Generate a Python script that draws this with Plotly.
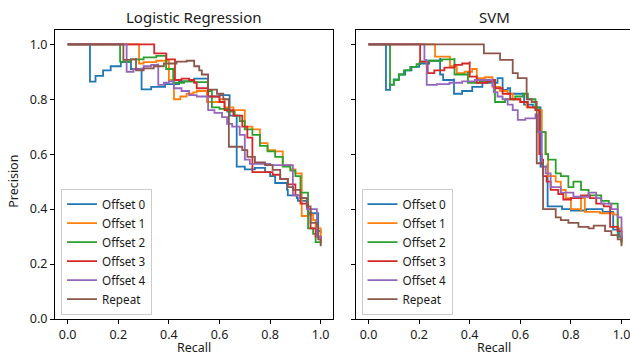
import plotly.graph_objects as go

# ---------------- data (recall, precision) ----------------
series_names = ["Offset 0", "Offset 1", "Offset 2", "Offset 3", "Offset 4", "Repeat"]
panel_titles = ["Logistic Regression", "SVM"]
x_ticks = [0.0, 0.2, 0.4, 0.6, 0.8, 1.0]
y_ticks = [0.0, 0.2, 0.4, 0.6, 0.8, 1.0]

# Logistic Regression
lr_off0_recall = [0, 0.088, 0.11, 0.14, 0.17, 0.21, 0.25, 0.25, 0.292, 0.292, 0.33, 0.385, 0.44, 0.50, 0.555, 0.555, 0.60, 0.64, 0.64, 0.668, 0.668, 0.70, 0.74, 0.78, 0.80, 0.82, 0.867, 0.87, 0.906, 0.91, 0.946, 0.95, 0.99, 0.99, 1.0]
lr_off0_precision = [1.0, 0.864, 0.885, 0.905, 0.92, 0.935, 0.942, 0.91, 0.915, 0.836, 0.845, 0.855, 0.865, 0.875, 0.88, 0.81, 0.815, 0.80, 0.74, 0.70, 0.555, 0.545, 0.55, 0.535, 0.52, 0.495, 0.47, 0.45, 0.44, 0.43, 0.41, 0.385, 0.38, 0.32, 0.31]

lr_off1_recall = [0, 0.282, 0.30, 0.35, 0.40, 0.40, 0.42, 0.42, 0.445, 0.47, 0.496, 0.51, 0.55, 0.55, 0.60, 0.62, 0.655, 0.70, 0.70, 0.73, 0.76, 0.76, 0.79, 0.82, 0.85, 0.85, 0.88, 0.90, 0.925, 0.925, 0.95, 0.97, 0.98, 1.0]
lr_off1_precision = [1.0, 0.93, 0.935, 0.94, 0.945, 0.87, 0.855, 0.80, 0.81, 0.82, 0.825, 0.83, 0.83, 0.79, 0.80, 0.77, 0.76, 0.75, 0.70, 0.69, 0.67, 0.64, 0.615, 0.61, 0.60, 0.56, 0.545, 0.53, 0.52, 0.375, 0.38, 0.36, 0.33, 0.29]

lr_off2_recall = [0, 0.207, 0.25, 0.30, 0.35, 0.389, 0.389, 0.417, 0.417, 0.46, 0.50, 0.555, 0.555, 0.57, 0.57, 0.60, 0.63, 0.66, 0.68, 0.70, 0.73, 0.76, 0.79, 0.82, 0.85, 0.88, 0.90, 0.92, 0.95, 0.95, 0.97, 0.98, 1.0]
lr_off2_precision = [1.0, 0.937, 0.945, 0.952, 0.958, 0.962, 0.91, 0.915, 0.86, 0.865, 0.862, 0.86, 0.83, 0.82, 0.77, 0.765, 0.755, 0.74, 0.72, 0.69, 0.67, 0.63, 0.61, 0.59, 0.555, 0.54, 0.52, 0.46, 0.44, 0.33, 0.31, 0.28, 0.27]

lr_off3_recall = [0, 0.342, 0.39, 0.39, 0.424, 0.424, 0.45, 0.48, 0.50, 0.51, 0.555, 0.555, 0.60, 0.62, 0.655, 0.69, 0.71, 0.73, 0.73, 0.77, 0.81, 0.84, 0.87, 0.90, 0.92, 0.95, 0.96, 0.98, 1.0]
lr_off3_precision = [1.0, 0.967, 0.968, 0.945, 0.948, 0.87, 0.875, 0.87, 0.86, 0.84, 0.83, 0.81, 0.79, 0.76, 0.74, 0.70, 0.66, 0.58, 0.535, 0.535, 0.525, 0.51, 0.49, 0.45, 0.42, 0.40, 0.33, 0.30, 0.28]

lr_off4_recall = [0, 0.233, 0.26, 0.30, 0.33, 0.358, 0.358, 0.38, 0.40, 0.42, 0.45, 0.48, 0.51, 0.555, 0.555, 0.58, 0.61, 0.63, 0.65, 0.68, 0.70, 0.70, 0.72, 0.76, 0.80, 0.85, 0.89, 0.89, 0.92, 0.945, 0.945, 0.985, 0.985, 1.0]
lr_off4_precision = [1.0, 0.90, 0.91, 0.92, 0.925, 0.93, 0.852, 0.86, 0.865, 0.84, 0.83, 0.815, 0.81, 0.81, 0.76, 0.75, 0.735, 0.71, 0.70, 0.67, 0.65, 0.58, 0.565, 0.565, 0.56, 0.56, 0.555, 0.45, 0.44, 0.43, 0.40, 0.395, 0.30, 0.29]

lr_rep_recall = [0, 0.22, 0.25, 0.27, 0.27, 0.30, 0.34, 0.38, 0.43, 0.47, 0.50, 0.52, 0.53, 0.555, 0.555, 0.59, 0.615, 0.637, 0.637, 0.69, 0.71, 0.74, 0.78, 0.81, 0.84, 0.87, 0.89, 0.92, 0.945, 0.96, 0.985, 0.99, 1.0]
lr_rep_precision = [1.0, 0.943, 0.945, 0.95, 0.905, 0.912, 0.92, 0.93, 0.937, 0.94, 0.92, 0.905, 0.89, 0.88, 0.835, 0.82, 0.80, 0.775, 0.627, 0.615, 0.59, 0.57, 0.56, 0.543, 0.51, 0.48, 0.47, 0.44, 0.41, 0.35, 0.34, 0.29, 0.265]

# SVM
svm_off0_recall = [0, 0.069, 0.085, 0.10, 0.12, 0.145, 0.17, 0.20, 0.24, 0.283, 0.283, 0.295, 0.338, 0.338, 0.37, 0.41, 0.45, 0.51, 0.53, 0.53, 0.55, 0.56, 0.615, 0.615, 0.65, 0.68, 0.68, 0.708, 0.708, 0.765, 0.80, 0.86, 0.925, 0.967, 0.967, 0.99, 1.0]
svm_off0_precision = [1.0, 0.834, 0.853, 0.872, 0.89, 0.905, 0.918, 0.93, 0.94, 0.95, 0.89, 0.87, 0.875, 0.82, 0.83, 0.845, 0.86, 0.877, 0.877, 0.834, 0.84, 0.82, 0.82, 0.78, 0.77, 0.76, 0.555, 0.567, 0.41, 0.40, 0.395, 0.40, 0.39, 0.385, 0.325, 0.30, 0.28]

svm_off1_recall = [0, 0.263, 0.322, 0.349, 0.38, 0.41, 0.428, 0.46, 0.49, 0.52, 0.55, 0.57, 0.60, 0.625, 0.66, 0.685, 0.685, 0.70, 0.71, 0.74, 0.76, 0.78, 0.80, 0.84, 0.84, 0.855, 0.855, 0.915, 0.97, 0.985, 1.0]
svm_off1_precision = [1.0, 0.955, 0.92, 0.895, 0.90, 0.91, 0.877, 0.88, 0.845, 0.83, 0.82, 0.80, 0.79, 0.77, 0.76, 0.74, 0.68, 0.60, 0.52, 0.50, 0.47, 0.44, 0.40, 0.39, 0.44, 0.43, 0.39, 0.385, 0.38, 0.33, 0.27]

svm_off2_recall = [0, 0.085, 0.10, 0.12, 0.14, 0.165, 0.19, 0.204, 0.24, 0.29, 0.34, 0.34, 0.393, 0.393, 0.44, 0.50, 0.50, 0.54, 0.58, 0.61, 0.63, 0.66, 0.675, 0.675, 0.70, 0.70, 0.71, 0.74, 0.76, 0.79, 0.81, 0.84, 0.87, 0.92, 0.95, 0.985, 0.985, 1.0]
svm_off2_precision = [1.0, 0.852, 0.87, 0.89, 0.905, 0.918, 0.928, 0.937, 0.94, 0.945, 0.95, 0.89, 0.90, 0.86, 0.865, 0.87, 0.79, 0.80, 0.81, 0.82, 0.80, 0.77, 0.74, 0.68, 0.67, 0.60, 0.58, 0.53, 0.52, 0.48, 0.50, 0.47, 0.45, 0.43, 0.42, 0.41, 0.30, 0.28]

svm_off3_recall = [0, 0.204, 0.234, 0.26, 0.30, 0.34, 0.37, 0.40, 0.40, 0.428, 0.428, 0.47, 0.49, 0.50, 0.53, 0.56, 0.60, 0.63, 0.66, 0.675, 0.675, 0.685, 0.69, 0.704, 0.72, 0.75, 0.77, 0.80, 0.84, 0.875, 0.90, 0.93, 0.955, 0.955, 0.985, 1.0]
svm_off3_precision = [1.0, 0.937, 0.895, 0.905, 0.915, 0.925, 0.93, 0.937, 0.882, 0.886, 0.86, 0.865, 0.87, 0.84, 0.82, 0.80, 0.79, 0.77, 0.76, 0.75, 0.60, 0.58, 0.52, 0.50, 0.47, 0.455, 0.435, 0.44, 0.45, 0.44, 0.42, 0.41, 0.39, 0.335, 0.32, 0.29]

svm_off4_recall = [0, 0.221, 0.23, 0.27, 0.32, 0.37, 0.42, 0.47, 0.49, 0.495, 0.51, 0.53, 0.55, 0.57, 0.59, 0.62, 0.66, 0.67, 0.685, 0.70, 0.72, 0.76, 0.81, 0.87, 0.90, 0.92, 0.96, 0.985, 1.0]
svm_off4_precision = [1.0, 0.943, 0.852, 0.855, 0.86, 0.865, 0.87, 0.87, 0.85, 0.826, 0.81, 0.80, 0.78, 0.76, 0.725, 0.73, 0.745, 0.68, 0.555, 0.53, 0.48, 0.46, 0.445, 0.46, 0.44, 0.42, 0.40, 0.37, 0.29]

svm_rep_recall = [0, 0.456, 0.52, 0.57, 0.59, 0.625, 0.645, 0.665, 0.69, 0.74, 0.76, 0.79, 0.83, 0.87, 0.89, 0.935, 0.96, 0.985, 1.0]
svm_rep_precision = [1.0, 0.967, 0.943, 0.895, 0.877, 0.80, 0.79, 0.567, 0.40, 0.37, 0.36, 0.35, 0.335, 0.33, 0.34, 0.32, 0.305, 0.29, 0.265]

lr_recalls = [lr_off0_recall, lr_off1_recall, lr_off2_recall, lr_off3_recall, lr_off4_recall, lr_rep_recall]
lr_precisions = [lr_off0_precision, lr_off1_precision, lr_off2_precision, lr_off3_precision, lr_off4_precision, lr_rep_precision]
svm_recalls = [svm_off0_recall, svm_off1_recall, svm_off2_recall, svm_off3_recall, svm_off4_recall, svm_rep_recall]
svm_precisions = [svm_off0_precision, svm_off1_precision, svm_off2_precision, svm_off3_precision, svm_off4_precision, svm_rep_precision]

# ---------------- styling ----------------
colors = ["#1f77b4", "#ff7f0e", "#2ca02c", "#d62728", "#9467bd", "#8c564b"]
FONT = "Noto Sans, DejaVu Sans, sans-serif"
TXT = "#1a1a1a"
W, H = 630, 356
MT, MB = 30, 36.7
PH = H - MT - MB

fig = go.Figure()
panels = [(lr_recalls, lr_precisions, "x", "y", "legend"),
          (svm_recalls, svm_precisions, "x2", "y2", "legend2")]
for recs, precs, xa, ya, lg in panels:
    for name, r, p, c in zip(series_names, recs, precs, colors):
        fig.add_trace(go.Scatter(
            x=r, y=p, mode="lines", name=name,
            line=dict(color=c, width=1.8, shape="hv"),
            xaxis=xa, yaxis=ya, legend=lg, showlegend=True,
        ))

axis_common = dict(
    showline=True, linecolor="black", linewidth=1, mirror=True,
    ticks="outside", ticklen=4, tickwidth=1, tickcolor="black",
    showgrid=False, zeroline=False, automargin=False,
    tickfont=dict(family=FONT, size=12.5, color=TXT),
)

left_dom = [55 / W, 333.3 / W]
right_dom = [355.5 / W, 1.0]

legend_common = dict(
    xanchor="left", yanchor="bottom",
    bgcolor="rgba(255,255,255,0.8)", bordercolor="#cccccc", borderwidth=1,
    font=dict(family=FONT, size=11.7, color=TXT),
    itemwidth=30, tracegroupgap=0,
)

fig.update_layout(
    width=W, height=H,
    margin=dict(l=0, r=0, t=MT, b=MB, autoexpand=False),
    paper_bgcolor="white", plot_bgcolor="white",
    font=dict(family=FONT, size=12, color=TXT),
    xaxis=dict(domain=left_dom, range=[-0.0502, 1.0498], tickvals=x_ticks,
               ticktext=[f"{v:.1f}" for v in x_ticks], anchor="y", **axis_common),
    yaxis=dict(domain=[0, 1], range=[0, 1.052], tickvals=y_ticks,
               ticktext=[f"{v:.1f}" for v in y_ticks], anchor="x", **axis_common),
    xaxis2=dict(domain=right_dom, range=[-0.0514, 1.0336], tickvals=x_ticks,
                ticktext=[f"{v:.1f}" for v in x_ticks], anchor="y2",
                ticklabeloverflow="allow", **axis_common),
    yaxis2=dict(domain=[0, 1], range=[0, 1.052], tickvals=y_ticks,
                showticklabels=False, anchor="x2", **axis_common),
    legend=dict(x=61 / W, y=(319.3 - 315) / PH, **legend_common),
    legend2=dict(x=361.5 / W, y=(319.3 - 315) / PH, **legend_common),
    showlegend=True,
)

# panel titles
for title, xc in zip(panel_titles, [194 / W, 494 / W]):
    fig.add_annotation(text=title, xref="paper", yref="paper",
                       x=xc, y=1 + (MT - 17) / PH,
                       xanchor="center", yanchor="middle", showarrow=False,
                       font=dict(family=FONT, size=15, color=TXT))

# x axis labels
for xc in [194 / W, 494 / W]:
    fig.add_annotation(text="Recall", xref="paper", yref="paper",
                       x=xc, y=-(348 - 319.3) / PH, xanchor="center", yanchor="middle",
                       showarrow=False, font=dict(family=FONT, size=12.5, color=TXT))

# y axis label
fig.add_annotation(text="Precision", xref="paper", yref="paper",
                   x=14 / W, y=(319.3 - 182) / PH, xanchor="center", yanchor="middle",
                   textangle=-90, showarrow=False,
                   font=dict(family=FONT, size=12.5, color=TXT))

fig.write_html("out.html", config={"displayModeBar": False},
               post_script="document.body.style.margin='0';document.body.style.overflow='hidden';")
